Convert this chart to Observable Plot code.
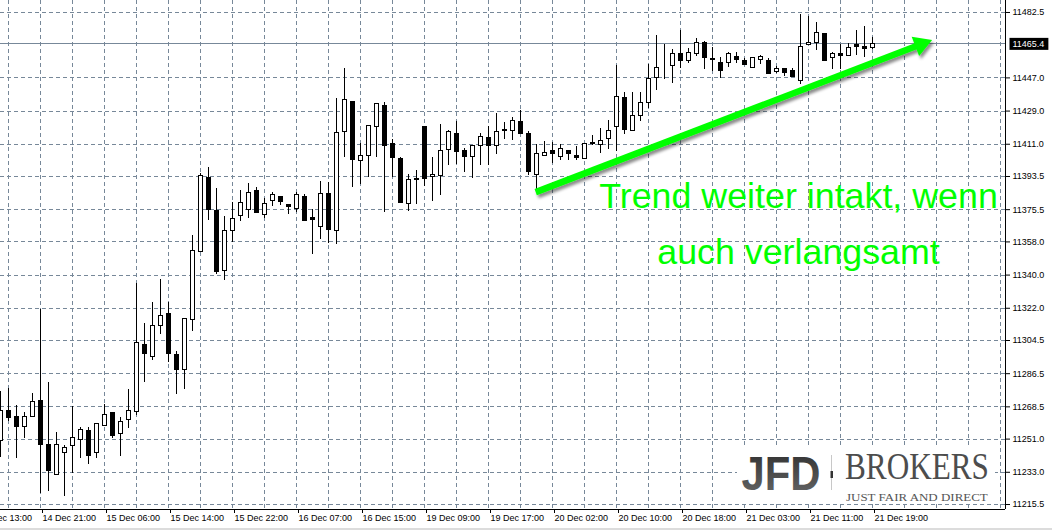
<!DOCTYPE html>
<html>
<head>
<meta charset="utf-8">
<script src="https://cdn.jsdelivr.net/npm/d3@7"></script>
<script src="https://cdn.jsdelivr.net/npm/@observablehq/plot@0.6"></script>
<style>
html, body { margin: 0; padding: 0; background: #ffffff; }
#chart svg { display: block; }
</style>
</head>
<body>
<div id="chart"></div>
<script>
// ---- Data: hourly DAX candles (bar index 0..109) ----
const opens = [
11250.0,11266.3,11263.2,11257.4,11262.9,11271.9,11248.0,11231.6,11243.5,11247.3,
11250.6,11255.6,11243.3,11258.0,11265.4,11253.6,11261.5,11265.8,11302.3,11295.6,
11312.5,11319.0,11296.7,11288.5,11315.7,11352.6,11392.8,11374.9,11342.3,11364.0,
11372.2,11375.4,11385.7,11372.7,11380.3,11382.5,11378.1,11376.0,11382.5,11371.1,
11366.2,11384.1,11364.0,11417.7,11434.0,11402.0,11404.7,11420.5,11431.9,11411.2,
11403.1,11378.7,11392.2,11420.1,11393.3,11393.9,11408.0,11416.8,11407.2,11404.2,
11410.2,11414.5,11410.2,11418.1,11418.3,11423.2,11416.3,11394.4,11404.7,11407.1,
11404.2,11407.6,11404.7,11403.1,11411.8,11410.7,11413.9,11420.5,11436.2,11418.3,
11426.4,11433.5,11447.0,11452.5,11453.2,11459.7,11456.1,11460.1,11465.9,11457.4,
11455.2,11455.2,11458.4,11456.3,11452.5,11456.8,11456.3,11450.3,11451.9,11450.8,
11445.4,11465.0,11466.0,11470.9,11457.9,11460.2,11459.0,11464.7,11464.0,11463.4];
const highs = [
11276.8,11278.6,11269.0,11265.4,11275.9,11321.3,11281.7,11254.6,11247.5,11268.5,
11257.4,11257.3,11259.3,11269.8,11265.4,11262.9,11278.1,11335.6,11313.9,11325.1,
11337.6,11325.1,11298.5,11316.3,11361.5,11395.0,11398.5,11387.0,11371.8,11379.4,
11385.9,11389.7,11387.5,11381.7,11384.6,11382.5,11378.1,11384.6,11383.9,11375.6,
11390.6,11390.2,11435.8,11452.1,11434.0,11411.2,11421.0,11433.3,11433.5,11413.4,
11404.0,11394.6,11396.6,11420.1,11403.6,11421.5,11418.5,11423.3,11408.5,11410.2,
11416.8,11420.8,11427.7,11422.8,11425.5,11429.5,11418.1,11410.6,11412.5,11411.9,
11410.9,11407.6,11409.8,11410.9,11415.6,11419.5,11423.7,11453.7,11439.2,11439.1,
11438.9,11454.5,11470.0,11465.1,11462.2,11472.7,11462.8,11468.2,11466.5,11463.5,
11458.2,11460.9,11460.9,11457.4,11457.9,11459.3,11457.7,11453.2,11451.9,11451.9,
11481.2,11480.2,11477.1,11470.9,11460.9,11465.0,11465.5,11472.6,11475.1,11468.8];
const lows = [
11241.2,11260.5,11240.6,11251.5,11262.5,11221.3,11222.7,11231.6,11220.0,11232.1,
11240.6,11237.0,11240.6,11258.0,11251.5,11241.7,11256.6,11263.8,11281.9,11293.6,
11308.0,11292.7,11275.0,11277.7,11309.5,11352.6,11369.8,11340.5,11337.2,11357.5,
11369.2,11370.9,11373.8,11370.9,11377.4,11377.9,11373.0,11373.8,11368.9,11351.3,
11359.5,11357.4,11356.4,11404.0,11387.7,11389.3,11392.8,11404.0,11374.1,11392.8,
11378.7,11374.7,11378.5,11388.1,11380.1,11383.2,11399.5,11400.2,11395.8,11392.2,
11399.5,11399.5,11405.6,11413.6,11413.0,11416.7,11394.0,11386.4,11404.7,11400.4,
11402.3,11402.0,11402.0,11403.1,11410.2,11405.8,11408.0,11407.2,11416.1,11418.3,
11423.2,11430.2,11439.9,11446.0,11443.8,11451.9,11454.6,11458.6,11451.7,11450.6,
11446.8,11452.5,11455.0,11453.7,11452.5,11454.1,11449.2,11449.2,11447.9,11447.2,
11443.3,11465.0,11462.0,11455.7,11451.4,11451.4,11459.0,11459.0,11458.2,11462.2];
const closes = [
11266.0,11262.3,11257.4,11263.2,11271.4,11247.7,11233.5,11248.0,11246.3,11251.8,
11256.0,11241.7,11259.3,11264.2,11252.5,11260.5,11266.3,11303.4,11297.0,11312.5,
11318.0,11297.0,11288.7,11316.3,11353.2,11393.5,11375.2,11341.6,11364.0,11370.5,
11379.2,11384.6,11373.8,11378.7,11383.6,11379.8,11377.0,11383.6,11369.4,11370.0,
11384.1,11364.6,11417.2,11435.1,11402.5,11404.7,11421.0,11432.6,11410.2,11403.4,
11379.0,11391.7,11391.5,11392.2,11394.4,11407.4,11417.4,11406.9,11404.0,11410.2,
11415.0,11410.2,11417.7,11418.5,11423.7,11416.7,11395.8,11405.7,11406.3,11405.8,
11408.5,11405.8,11403.6,11410.9,11411.2,11412.9,11418.3,11436.7,11418.6,11426.4,
11433.5,11446.5,11452.5,11452.5,11460.1,11456.4,11460.6,11465.8,11457.8,11456.8,
11450.6,11459.7,11456.8,11454.1,11457.9,11458.1,11449.2,11451.9,11449.5,11447.6,
11464.0,11466.0,11471.5,11456.1,11459.9,11459.0,11463.3,11464.0,11462.8,11465.4];

// Price-axis labels (right side)
const priceTicks = [11482.5,11447.0,11429.0,11411.0,11393.5,11375.5,11358.0,11340.0,
                    11322.0,11304.5,11286.5,11268.5,11251.0,11233.0,11215.5];
// Time-axis labels and the bar index they belong to
const timeTickIdx = [-3,5,13,21,29,37,45,53,61,69,77,85,93,101,109];
const timeTickLabels = ["14 Dec 13:00","14 Dec 21:00","15 Dec 06:00","15 Dec 14:00","15 Dec 22:00",
  "16 Dec 07:00","16 Dec 15:00","19 Dec 09:00","19 Dec 17:00","20 Dec 02:00","20 Dec 10:00",
  "20 Dec 18:00","21 Dec 03:00","21 Dec 11:00","21 Dec 19:00"];
const lastPrice = 11465.4;

// Annotation
const noteLines = ["Trend weiter intakt, wenn", "auch verlangsamt"];
const noteLinePrices = [11382.6, 11352.2];
const noteIdx = 99.75;
const arrowFrom = {i: 66.9, price: 11385.0};
const arrowTo = {i: 114.5, price: 11464.3};
const arrowHead = {i: 115.06, price: 11465.3};

// ---- Build ----
const candles = opens.map((o, i) => ({
  i, open: o, high: highs[i], low: lows[i], close: closes[i], up: closes[i] >= o
}));
const notes = noteLines.map((t, k) => ({text: t, i: noteIdx, price: noteLinePrices[k]}));

const W = 1052, H = 530, mR = 47, mB = 21;
const barPx = 8;
const xMax = (W - mR) / barPx;
const yDomain = [11212.8, 11489.0];
const gridIdx = d3.range(1, xMax, 4);
const GRID = "#778899";
const GREEN = "#00ff00";

const plot = Plot.plot({
  width: W, height: H,
  marginLeft: 0, marginRight: mR, marginTop: 0, marginBottom: mB,
  x: {type: "linear", domain: [0, xMax]},
  y: {type: "linear", domain: yDomain},
  color: {type: "identity"},
  style: {background: "#ffffff", fontFamily: "'Liberation Sans', Arial, sans-serif", fontSize: "9px", color: "black", overflow: "visible"},
  marks: [
    Plot.gridY(priceTicks, {stroke: GRID, strokeOpacity: 1, strokeDasharray: "4,3", shapeRendering: "crispEdges"}),
    Plot.gridX(gridIdx, {stroke: GRID, strokeOpacity: 1, strokeDasharray: "4,3", shapeRendering: "crispEdges"}),
    Plot.ruleY([lastPrice], {stroke: GRID, strokeWidth: 1, shapeRendering: "crispEdges"}),
    Plot.ruleX(candles, {x: "i", y1: "low", y2: "high", stroke: "black", shapeRendering: "crispEdges"}),
    Plot.rect(candles, {
      x1: d => d.i - 0.25, x2: d => d.i + 0.25, y1: "open", y2: "close",
      fill: d => d.up ? "white" : "black", stroke: "black", strokeWidth: 1, shapeRendering: "crispEdges"
    }),
    Plot.ruleX([xMax], {stroke: "black", shapeRendering: "crispEdges"}),
    Plot.ruleY([yDomain[0]], {stroke: "black", shapeRendering: "crispEdges"}),
    Plot.axisY(priceTicks, {anchor: "right", label: null, tickSize: 4, tickPadding: 3,
      tickFormat: d => d.toFixed(1)}),
    Plot.axisX(timeTickIdx, {anchor: "bottom", label: null, tickSize: 4, tickPadding: 1,
      textAnchor: "start", dx: 2, tickFormat: d => timeTickLabels[timeTickIdx.indexOf(d)]}),
    Plot.text([lastPrice], {x: () => xMax, y: d => d, dx: 7, textAnchor: "start", fill: "white",
      text: d => d.toFixed(1), ariaDescription: "last-price"}),
    Plot.link([{a: arrowFrom, b: arrowTo}], {
      x1: d => d.a.i, y1: d => d.a.price, x2: d => d.b.i, y2: d => d.b.price,
      stroke: GREEN, strokeWidth: 6.5, ariaDescription: "arrow-shaft"
    }),
    Plot.dot([arrowHead], {x: "i", y: "price", symbol: "triangle", r: 7.7, rotate: 69,
      fill: GREEN, stroke: "none", ariaDescription: "arrow-head"}),
    Plot.text(notes, {x: "i", y: "price", text: "text",
      fontSize: 35.8, fill: GREEN, textAnchor: "middle",
      fontFamily: "'Liberation Sans', Arial, sans-serif", ariaDescription: "note"})
  ]
});

document.getElementById("chart").appendChild(plot);

// ---- Decorations (price tag box, arrow shadow, logo watermark) ----
const svg = d3.select(plot);
const defs = svg.insert("defs", ":first-child");
const f = defs.append("filter").attr("id", "arrowShadow")
  .attr("x", "-10%").attr("y", "-30%").attr("width", "130%").attr("height", "170%");
f.append("feDropShadow").attr("dx", 2).attr("dy", 3).attr("stdDeviation", 1.6)
  .attr("flood-color", "#000").attr("flood-opacity", 0.45);
const lg = defs.append("linearGradient").attr("id", "jfdGrad")
  .attr("x1", 0).attr("y1", 0).attr("x2", 0).attr("y2", 1);
lg.append("stop").attr("offset", "0%").attr("stop-color", "#2c2c2c");
lg.append("stop").attr("offset", "100%").attr("stop-color", "#6b6b6b");

function findGroup(desc) {
  const gs = plot.querySelectorAll("g");
  for (const g of gs) if (g.getAttribute("aria-description") === desc) return g;
  return null;
}

// Price tag background
const tagG = findGroup("last-price");
const tagText = tagG ? tagG.querySelector("text") : null;
if (tagText) {
  const bb = tagText.getBBox();
  d3.select(tagText.parentNode).insert("rect", () => tagText)
    .attr("transform", tagText.getAttribute("transform"))
    .attr("x", bb.x - 3).attr("y", bb.y + bb.height / 2 - 6)
    .attr("width", bb.width + 7).attr("height", 12).attr("fill", "black");
}

// Arrow shadow
const shaft = findGroup("arrow-shaft");
const head = findGroup("arrow-head");
if (shaft && head) {
  const wrap = svg.insert("g", () => shaft).attr("filter", "url(#arrowShadow)");
  wrap.node().appendChild(shaft);
  wrap.node().appendChild(head);
}

// Logo watermark (text squeezed horizontally with a scale transform)
function fitText(g, str, x, y, width, attrs) {
  const t = g.append("text").attr("text-anchor", "start").attr("x", 0).attr("y", 0).text(str);
  for (const k in attrs) t.attr(k, attrs[k]);
  const w = t.node().getComputedTextLength() || width;
  t.attr("transform", `translate(${x},${y}) scale(${width / w},1)`);
  return t;
}
const logo = svg.append("g").attr("text-anchor", "start");
logo.append("rect").attr("x", 737).attr("y", 447).attr("width", 258).attr("height", 56).attr("fill", "white");
fitText(logo, "JFD", 741.5, 490, 79, {"font-family": "'Liberation Sans', Arial, sans-serif",
  "font-weight": "bold", "font-size": 49, "fill": "url(#jfdGrad)"});
logo.append("line").attr("x1", 831.5).attr("x2", 831.5).attr("y1", 455).attr("y2", 490)
  .attr("stroke", "#c8c8c8").attr("stroke-width", 1);
logo.append("rect").attr("x", 830.5).attr("y", 471).attr("width", 2.5).attr("height", 7).attr("fill", "#333");
fitText(logo, "BROKERS", 845, 479.3, 144, {"font-family": "'Liberation Serif', 'Times New Roman', serif",
  "font-size": 37, "fill": "#4d4d4d"});
fitText(logo, "JUST FAIR AND DIRECT", 846, 501, 142, {"font-family": "'Liberation Serif', 'Times New Roman', serif",
  "font-size": 11, "fill": "#555"});

// window bottom edge
svg.append("rect").attr("x", 0).attr("y", 528).attr("width", W).attr("height", 2).attr("fill", "#dcdcdc");
</script>
</body>
</html>
